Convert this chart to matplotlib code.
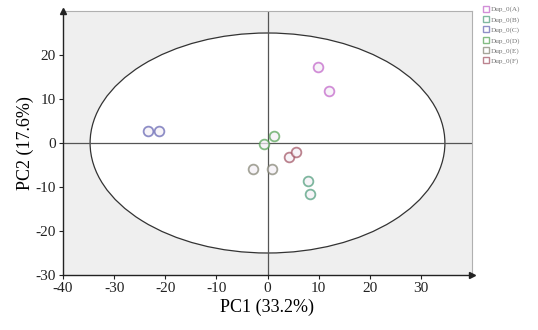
import matplotlib
matplotlib.use("Agg")
import matplotlib.pyplot as plt
from matplotlib.patches import Ellipse

# PCA scores for each group (two replicates each)
groups = ["Dup_0(A)", "Dup_0(B)", "Dup_0(C)", "Dup_0(D)", "Dup_0(E)", "Dup_0(F)"]
colors = ["#c060c8", "#4a9a78", "#6060b0", "#50a050", "#808070", "#a05060"]
pc1_A = [9.8, 12.0]
pc2_A = [17.3, 11.8]
pc1_B = [7.9, 8.4]
pc2_B = [-8.6, -11.7]
pc1_C = [-23.4, -21.2]
pc2_C = [2.8, 2.8]
pc1_D = [1.2, -0.6]
pc2_D = [1.7, -0.2]
pc1_E = [-2.9, 0.9]
pc2_E = [-5.8, -5.8]
pc1_F = [4.3, 5.5]
pc2_F = [-3.1, -2.0]
pc1 = [pc1_A, pc1_B, pc1_C, pc1_D, pc1_E, pc1_F]
pc2 = [pc2_A, pc2_B, pc2_C, pc2_D, pc2_E, pc2_F]

# Hotelling T2 ellipse semi-axes
ell_a = 34.7
ell_b = 25.0

plt.rcParams["font.family"] = ["Liberation Serif", "DejaVu Serif"]
plt.rcParams["axes.unicode_minus"] = False

fig = plt.figure(figsize=(5.38, 3.30), dpi=100)
ax = fig.add_axes([63 / 538, 1 - 275 / 330, (472 - 63) / 538, (275 - 11) / 330])
ax.set_facecolor("#efefef")
ax.set_xlim(-40, 40)
ax.set_ylim(-30, 30)

ax.add_patch(Ellipse((0, 0), 2 * ell_a, 2 * ell_b, facecolor="white",
                     edgecolor="#333333", linewidth=0.9, zorder=1))
ax.axhline(0, color="#555555", linewidth=0.9, zorder=2)
ax.axvline(0, color="#555555", linewidth=0.9, zorder=2)

for name, col, xs, ys in zip(groups, colors, pc1, pc2):
    ax.plot(xs, ys, "o", markersize=7, markerfacecolor="#f4f0f6",
            markeredgecolor=col, markeredgewidth=1.3, alpha=0.7,
            linestyle="none", zorder=3)
    ax.plot([], [], "s", markersize=5, markerfacecolor="white",
            markeredgecolor=col, markeredgewidth=1.0, alpha=0.7,
            linestyle="none", label=name)

for side in ["top", "right"]:
    ax.spines[side].set_color("#b0b0b0")
    ax.spines[side].set_linewidth(0.8)
for side in ["left", "bottom"]:
    ax.spines[side].set_color("#222222")
    ax.spines[side].set_linewidth(1.0)

# arrow heads on the axes
ax.plot(1, 0, ">", transform=ax.transAxes, color="#222222", markersize=4,
        clip_on=False, zorder=5)
ax.plot(0, 1, "^", transform=ax.transAxes, color="#222222", markersize=4,
        clip_on=False, zorder=5)

ax.set_xticks([-40, -30, -20, -10, 0, 10, 20, 30])
ax.set_yticks([-30, -20, -10, 0, 10, 20])
ax.tick_params(labelsize=11, length=3, width=0.8, direction="out", pad=2,
               colors="#222222")
ax.set_xlabel("PC1 (33.2%)", fontsize=13, labelpad=3)
ax.set_ylabel("PC2 (17.6%)", fontsize=13, labelpad=1)

leg = fig.legend(loc="upper left", bbox_to_anchor=(478 / 538, 0.995), fontsize=5.2,
                 frameon=False, handletextpad=0.2, labelspacing=0.55,
                 borderaxespad=0.2, handlelength=1.0)
for t in leg.get_texts():
    t.set_color("#777777")

fig.savefig("out.png", dpi=100)
